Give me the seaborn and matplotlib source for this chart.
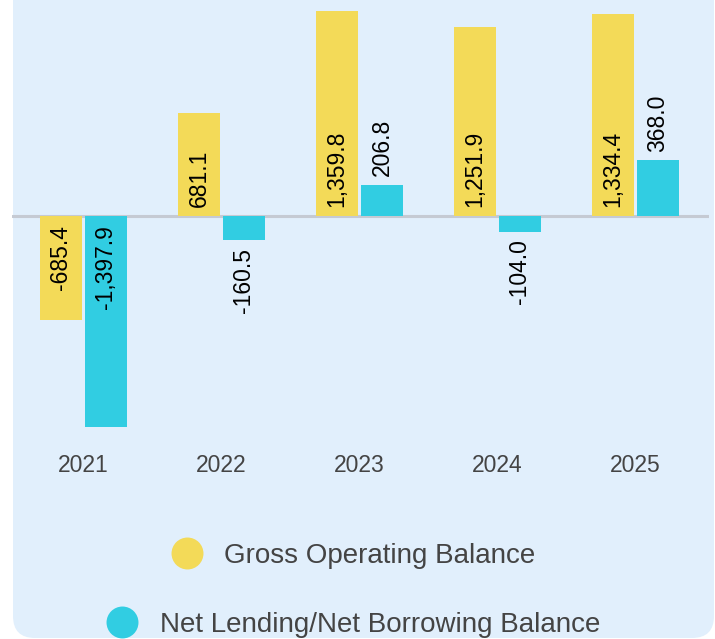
import pandas as pd
import matplotlib.pyplot as plt
import seaborn as sns
from matplotlib.patches import FancyBboxPatch
from matplotlib.lines import Line2D
from matplotlib.transforms import IdentityTransform

# ----------------------------
# Data
# ----------------------------
years = ["2021", "2022", "2023", "2024", "2025"]
gross_operating = [-685.4, 681.1, 1359.8, 1251.9, 1334.4]
net_lending = [-1397.9, -160.5, 206.8, -104.0, 368.0]
series_names = ["Gross Operating Balance", "Net Lending/Net Borrowing Balance"]

YELLOW = "#f3da58"
CYAN = "#31cde2"
PANEL = "#e1effc"
TEXT = "#444444"

df = pd.DataFrame({
    "year": years * 2,
    "value": gross_operating + net_lending,
    "series": [series_names[0]] * len(years) + [series_names[1]] * len(years),
})

sns.set_theme(style="white")
plt.rcParams["font.family"] = ["Liberation Sans", "DejaVu Sans"]

fig = plt.figure(figsize=(7.15, 6.39), dpi=100)
fig.patch.set_facecolor("white")

# rounded light-blue panel behind everything (pixel coords)
panel = FancyBboxPatch((13, 1), 701, 700, boxstyle="round,pad=0,rounding_size=22",
                       transform=IdentityTransform(), facecolor=PANEL,
                       edgecolor="none", zorder=-5)
fig.patches.append(panel)

ax = fig.add_axes([12 / 715, 1 - 440 / 639, 697 / 715, 440 / 639])
ax.set_facecolor("none")
ax.set_zorder(1)

sns.barplot(data=df, x="year", y="value", hue="series",
            palette=[YELLOW, CYAN], width=0.652, gap=0.067,
            saturation=1, linewidth=0, legend=False, ax=ax, zorder=2)

ax.axhline(0, color="#c5cad3", lw=2.2, zorder=1)
ax.set_xlim(-0.518, 4.533)
ax.set_ylim(-1483, 1430)

# ----------------------------
# Value labels (rotated)
# ----------------------------
for container, vals in zip(ax.containers, [gross_operating, net_lending]):
    for bar, v in zip(container, vals):
        xc = bar.get_x() + bar.get_width() / 2
        txt = f"{v:,.1f}"
        inside = abs(v) > 500
        if inside:
            y, off = 0, (6.5 if v > 0 else -6.5)
        else:
            y, off = v, (6 if v > 0 else -5.5)
        ax.annotate(txt, (xc, y), xytext=(0, off), textcoords="offset points",
                    rotation=90, ha="center",
                    va="bottom" if v > 0 else "top",
                    fontsize=16.5, color="black", zorder=3)

# ----------------------------
# Axes cosmetics
# ----------------------------
sns.despine(ax=ax, left=True, bottom=True, top=True, right=True)
ax.set_yticks([])
ax.set_xlabel("")
ax.set_ylabel("")
ax.tick_params(axis="x", length=0, labelsize=16.5, labelcolor=TEXT, pad=10)

# ----------------------------
# Legend: one centred row per series
# ----------------------------
for name, color, yc in [(series_names[0], YELLOW, 556), (series_names[1], CYAN, 625)]:
    handle = Line2D([], [], marker="o", ls="", markersize=23,
                    markerfacecolor=color, markeredgewidth=0)
    fig.legend(handles=[handle], labels=[name], loc="center",
               bbox_to_anchor=(352 / 715, 1 - yc / 639), frameon=False,
               fontsize=20, labelcolor=TEXT, handlelength=1.3,
               handletextpad=0.7, borderpad=0)

fig.savefig("out.png", dpi=100)
